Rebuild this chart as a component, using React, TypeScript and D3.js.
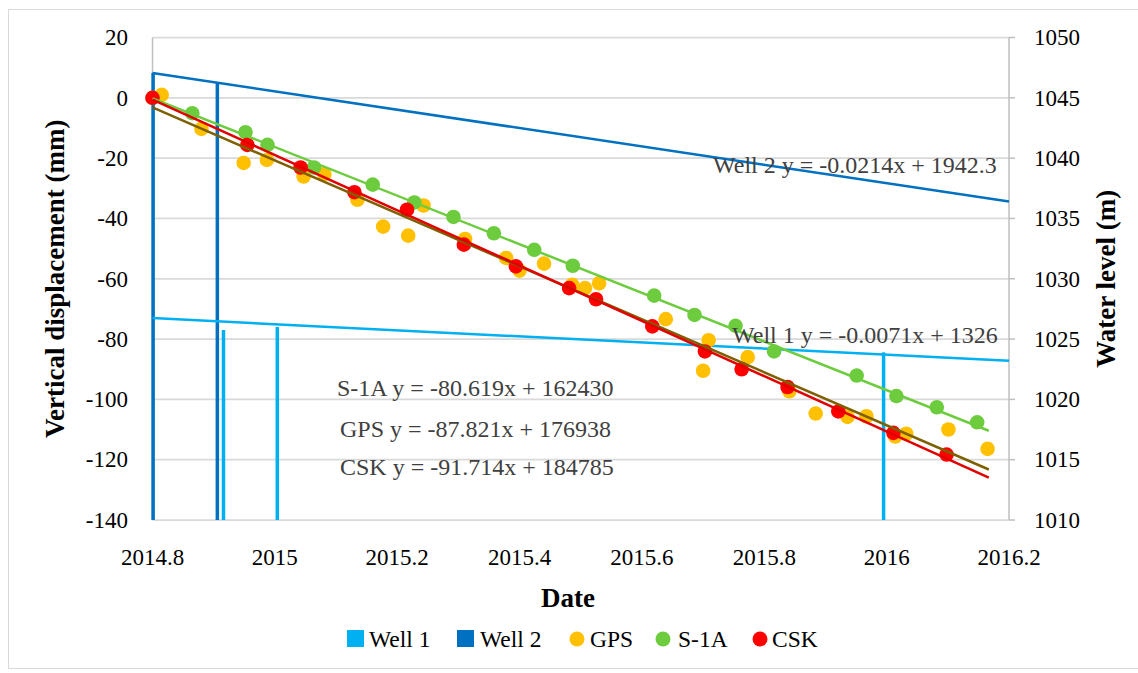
import React from 'react';
import * as d3 from 'd3';

// ---------- data ----------
const xTicks = [2014.8, 2015, 2015.2, 2015.4, 2015.6, 2015.8, 2016, 2016.2];
const xTickLabels = ['2014.8', '2015', '2015.2', '2015.4', '2015.6', '2015.8', '2016', '2016.2'];
const yLeftTicks = [20, 0, -20, -40, -60, -80, -100, -120, -140];
const yRightTicks = [1050, 1045, 1040, 1035, 1030, 1025, 1020, 1015, 1010];

const gpsDates = [2014.815, 2014.88, 2014.949, 2014.987, 2015.047, 2015.081, 2015.135, 2015.177, 2015.218, 2015.243,
  2015.311, 2015.378, 2015.4, 2015.44, 2015.486, 2015.507, 2015.53, 2015.639, 2015.7, 2015.709,
  2015.773, 2015.841, 2015.884, 2015.936, 2015.967, 2016.014, 2016.032, 2016.101, 2016.165];
const gpsValues = [1.0, -10.3, -21.6, -20.6, -26.1, -25.3, -33.8, -42.7, -45.7, -35.7,
  -46.8, -53.1, -57.3, -55.0, -62.0, -63.1, -61.5, -73.4, -90.5, -80.4,
  -86.0, -97.3, -104.7, -105.8, -105.6, -112.3, -111.4, -110.0, -116.4];

const s1aDates = [2014.8, 2014.865, 2014.952, 2014.988, 2015.064, 2015.16, 2015.228, 2015.292, 2015.358, 2015.424,
  2015.487, 2015.62, 2015.686, 2015.753, 2015.816, 2015.951, 2016.016, 2016.082, 2016.148];
const s1aValues = [0, -5.1, -11.4, -15.6, -23.1, -28.8, -34.7, -39.5, -44.9, -50.4,
  -55.7, -65.6, -72.0, -75.6, -84.1, -92.1, -98.9, -102.6, -107.6];

const cskDates = [2014.8, 2014.955, 2015.042, 2015.13, 2015.216, 2015.309, 2015.394, 2015.481, 2015.525, 2015.617,
  2015.703, 2015.763, 2015.838, 2015.921, 2016.011, 2016.098];
const cskValues = [0, -15.6, -23.1, -31.3, -37.1, -48.7, -55.9, -63.1, -66.8, -75.8,
  -84.1, -90.0, -95.9, -104.0, -111.1, -118.3];

const well1Dates = [2014.916, 2015.004, 2015.995];
const well1Levels = [1025.75, 1026.0, 1023.9];
const well2Dates = [2014.801, 2014.906];
const well2Levels = [1047.06, 1046.23];

// displacement trend lines (slope per year, value at start)
const trendNames = ['GPS', 'S-1A', 'CSK'];
const trendSlopes = [-87.821, -80.619, -91.714];
const trendStartValues = [-3.2, -0.2, -0.6];
const trendRange = [2014.8, 2016.167];

// water level trend lines (start/end values over the full axis)
const wellTrendNames = ['Well 1', 'Well 2'];
const wellTrendStart = [1026.74, 1047.06];
const wellTrendEnd = [1023.2, 1036.4];
const wellTrendRange = [2014.8, 2016.2];

const equationTexts = [
  'Well 2 y = -0.0214x + 1942.3',
  'Well 1 y = -0.0071x + 1326',
  'S-1A y = -80.619x + 162430',
  'GPS y = -87.821x + 176938',
  'CSK y = -91.714x + 184785',
];

const legendNames = ['Well 1', 'Well 2', 'GPS', 'S-1A', 'CSK'];

// ---------- styles ----------
const COLORS: Record<string, string> = {
  'Well 1': '#00B0F0',
  'Well 2': '#0070C0',
  GPS: '#FFC000',
  'S-1A': '#6DCC3E',
  CSK: '#FF0000',
};
const TREND_COLORS: Record<string, string> = {
  GPS: '#7F6000',
  'S-1A': '#6DCC3E',
  CSK: '#E00000',
};
const FONT = '"Liberation Serif", "Times New Roman", serif';

export default function App() {
  const x = d3.scaleLinear().domain([2014.8, 2016.2]).range([152.5, 1009]);
  const yL = d3.scaleLinear().domain([-140, 20]).range([520, 37.5]);
  const yR = d3.scaleLinear().domain([1010, 1050]).range([520, 37.5]);

  const line = d3.line<[number, number]>().x((d) => x(d[0])).y((d) => yL(d[1]));
  const lineR = d3.line<[number, number]>().x((d) => x(d[0])).y((d) => yR(d[1]));

  const series = [
    { name: 'GPS', dates: gpsDates, values: gpsValues },
    { name: 'S-1A', dates: s1aDates, values: s1aValues },
    { name: 'CSK', dates: cskDates, values: cskValues },
  ];
  const wells = [
    { name: 'Well 2', dates: well2Dates, levels: well2Levels },
    { name: 'Well 1', dates: well1Dates, levels: well1Levels },
  ];

  const eqPos = [
    { x: 713, y: 173 },
    { x: 732, y: 343 },
    { x: 337, y: 396 },
    { x: 340, y: 437 },
    { x: 340, y: 475 },
  ];

  const legendX = [347, 457, 577, 663, 760];
  const legendTextX = [369, 480, 590, 678, 772];

  return (
    <svg width={1138} height={673} style={{ position: 'absolute', left: 0, top: 0 }} fontFamily={FONT}>
      <rect x={0} y={0} width={1138} height={673} fill="#fff" />
      <rect x={8.5} y={9.5} width={1140} height={659} fill="none" stroke="#d9d9d9" strokeWidth={1} />

      {/* gridlines */}
      {yLeftTicks.map((t) => (
        <line key={t} x1={x(2014.8)} x2={x(2016.2)} y1={yL(t)} y2={yL(t)} stroke="#d9d9d9" strokeWidth={1.75} />
      ))}
      {/* axis lines */}
      <line x1={x(2014.8)} x2={x(2014.8)} y1={yL(20)} y2={yL(-140)} stroke="#bfbfbf" strokeWidth={1.5} />
      <line x1={x(2016.2)} x2={x(2016.2)} y1={yL(20)} y2={yL(-140)} stroke="#bfbfbf" strokeWidth={1.5} />
      {yRightTicks.map((t) => (
        <line key={t} x1={x(2016.2)} x2={x(2016.2) + 6} y1={yR(t)} y2={yR(t)} stroke="#bfbfbf" strokeWidth={1.5} />
      ))}

      {/* well bars */}
      {wells.map((w) =>
        w.dates.map((d, i) => (
          <rect
            key={w.name + i}
            x={x(d) - 1.75}
            width={3.5}
            y={yR(w.levels[i])}
            height={yR(1010) - yR(w.levels[i])}
            fill={COLORS[w.name]}
          />
        ))
      )}

      {/* well trendlines */}
      {wellTrendNames.map((n, i) => (
        <path
          key={n}
          d={lineR([
            [wellTrendRange[0], wellTrendStart[i]],
            [wellTrendRange[1], wellTrendEnd[i]],
          ]) || ''}
          stroke={COLORS[n]}
          strokeWidth={2.5}
          fill="none"
        />
      ))}

      {/* markers */}
      {series.map((s) =>
        s.dates.map((d, i) => (
          <circle key={s.name + i} cx={x(d)} cy={yL(s.values[i])} r={7.3} fill={COLORS[s.name]} />
        ))
      )}

      {/* displacement trendlines */}
      {trendNames.map((n, i) => {
        const v0 = trendStartValues[i];
        const v1 = v0 + trendSlopes[i] * (trendRange[1] - trendRange[0]);
        return (
          <path
            key={n}
            d={line([
              [trendRange[0], v0],
              [trendRange[1], v1],
            ]) || ''}
            stroke={TREND_COLORS[n]}
            strokeWidth={2.5}
            fill="none"
          />
        );
      })}

      {/* equation labels */}
      {equationTexts.map((t, i) => (
        <text key={t} x={eqPos[i].x} y={eqPos[i].y} fontSize={24} fill="#404040" fontFamily={FONT}>
          {t}
        </text>
      ))}

      {/* tick labels */}
      {yLeftTicks.map((t) => (
        <text key={t} x={128} y={yL(t) + 7.8} fontSize={23} textAnchor="end" fill="#000" fontFamily={FONT}>
          {t}
        </text>
      ))}
      {yRightTicks.map((t) => (
        <text key={t} x={1034} y={yR(t) + 7.8} fontSize={23} textAnchor="start" fill="#000" fontFamily={FONT}>
          {t}
        </text>
      ))}
      {xTicks.map((t, i) => (
        <text key={t} x={x(t)} y={565} fontSize={23} textAnchor="middle" fill="#000" fontFamily={FONT}>
          {xTickLabels[i]}
        </text>
      ))}

      {/* axis titles */}
      <text x={568} y={607} fontSize={27} fontWeight="bold" textAnchor="middle" fill="#000" fontFamily={FONT}>
        Date
      </text>
      <text
        transform={`translate(64, ${(yL(20) + yL(-140)) / 2}) rotate(-90)`}
        fontSize={27}
        fontWeight="bold"
        textAnchor="middle"
        fill="#000"
        fontFamily={FONT}
      >
        Vertical displacement (mm)
      </text>
      <text
        transform={`translate(1115, ${(yL(20) + yL(-140)) / 2}) rotate(-90)`}
        fontSize={27}
        fontWeight="bold"
        textAnchor="middle"
        fill="#000"
        fontFamily={FONT}
      >
        Water level (m)
      </text>

      {/* legend */}
      {legendNames.map((n, i) => (
        <g key={n}>
          {i < 2 ? (
            <rect x={legendX[i]} y={630} width={17} height={17} fill={COLORS[n]} />
          ) : (
            <circle cx={legendX[i]} cy={639} r={7.5} fill={COLORS[n]} />
          )}
          <text x={legendTextX[i]} y={647} fontSize={23.5} fill="#000" fontFamily={FONT}>
            {n}
          </text>
        </g>
      ))}
    </svg>
  );
}
